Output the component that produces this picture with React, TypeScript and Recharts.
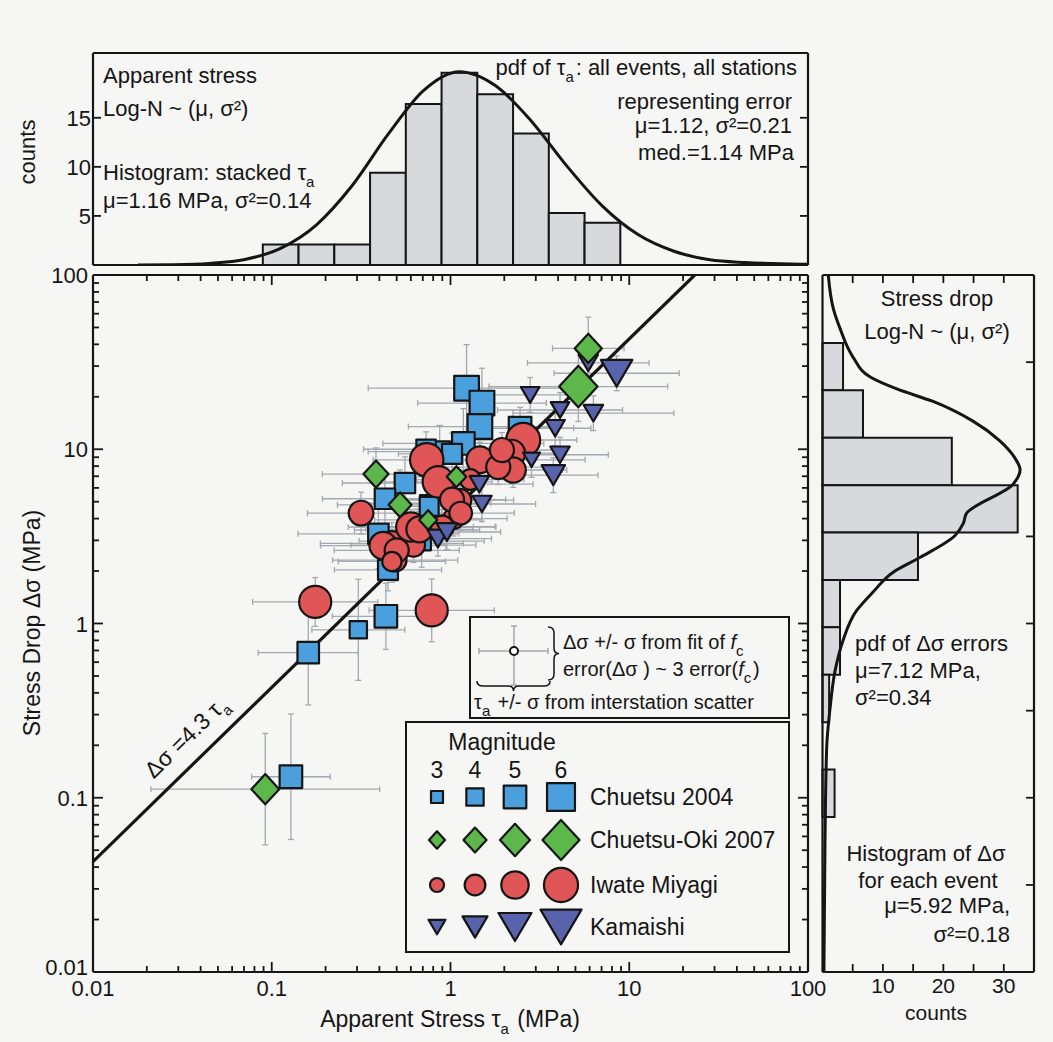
import React from 'react';
import { ComposedChart, ScatterChart, Scatter, Line, XAxis, YAxis, ErrorBar, ReferenceArea } from 'recharts';

const FONT = '"Liberation Sans", Arial, Helvetica, sans-serif';
const INK = '#151515';
const PAPER = '#f6f6f4';
const BAR_FILL = '#d7d9dc';
const ERR = '#a3a9b0';

// ---- tick values
const decades = [0.01, 0.1, 1, 10, 100];
const minorLog = [
  0.02, 0.03, 0.04, 0.05, 0.06, 0.07, 0.08, 0.09,
  0.2, 0.3, 0.4, 0.5, 0.6, 0.7, 0.8, 0.9,
  2, 3, 4, 5, 6, 7, 8, 9,
  20, 30, 40, 50, 60, 70, 80, 90,
];
const logTicks = [...decades, ...minorLog].sort((a, b) => a - b);
const halfDecades = [0.0316, 0.1, 0.316, 1, 3.16, 10, 31.6];
const topCountTicks = [5, 10, 15];
const rightCountTicks = [5, 10, 15, 20, 25, 30];
const rightCountLabels = [10, 20, 30];

// ---- top histogram: apparent stress (bin edges in log10 MPa)
const tauEdges = [-1.05, -0.85, -0.65, -0.45, -0.25, -0.05, 0.15, 0.35, 0.55, 0.75, 0.95];
const tauCounts = [2.1, 2.1, 2.1, 9.4, 16.4, 19.6, 17.4, 13.4, 5.3, 4.3];
const tauPdfX = [0.0178, 0.0282, 0.0447, 0.0708, 0.112, 0.178, 0.282, 0.447, 0.708, 1.12, 1.78, 2.82, 4.47, 7.08, 11.2, 17.8, 28.2, 44.7, 70.8, 100];
const tauPdfY = [0.0, 0.03, 0.16, 0.56, 1.7, 4.1, 8.1, 13.3, 17.8, 19.7, 18.3, 14.7, 10.1, 6.0, 3.1, 1.4, 0.53, 0.25, 0.12, 0.08];

// ---- right histogram: stress drop (bin edges in log10 MPa)
const sigEdges = [1.61, 1.338, 1.066, 0.794, 0.522, 0.25, -0.022, -0.294, -0.566, -0.838, -1.11];
const sigCounts = [3.4, 6.7, 21.4, 32.3, 15.8, 2.9, 2.9, 1.1, 0, 2.0];
const sigPdfY = [100, 64, 49.4, 33.6, 26, 22.2, 18.8, 14.5, 11.2, 8.95, 7.62, 6.28, 4.27, 3.75, 3.19, 2.39, 1.97, 1.52, 1.18, 0.8, 0.54, 0.324, 0.194, 0.054, 0.0115, 0.01];
const sigPdfC = [0.96, 1.8, 2.9, 5.1, 7.9, 12.3, 18.3, 24.9, 29.3, 31.8, 32.7, 31.5, 23.8, 23.3, 21.9, 16.1, 11.7, 8.4, 5.6, 3.4, 2.1, 1.24, 0.69, 0.41, 0.25, 0.24];

// ---- events: x = apparent stress, y = stress drop (MPa), m = magnitude, ex/ey = error half width (decades)
type Pt = { x: number; y: number; m: number; ex: number; ey: number };

const chuetsu: Pt[] = [
  { x: 0.305, y: 0.92, m: 4.0, ex: 0.26, ey: 0.29 },
  { x: 0.435, y: 1.1, m: 5.0, ex: 0.3, ey: 0.19 },
  { x: 0.16, y: 0.68, m: 4.8, ex: 0.28, ey: 0.3 },
  { x: 0.128, y: 0.132, m: 5.0, ex: 0.22, ey: 0.36 },
  { x: 0.447, y: 2.03, m: 4.5, ex: 0.3, ey: 0.12 },
  { x: 1.23, y: 22.4, m: 5.4, ex: 0.55, ey: 0.25 },
  { x: 1.5, y: 18.4, m: 5.4, ex: 0.36, ey: 0.2 },
  { x: 1.46, y: 13.5, m: 5.4, ex: 0.4, ey: 0.15 },
  { x: 2.45, y: 13.2, m: 5.0, ex: 0.3, ey: 0.12 },
  { x: 1.18, y: 10.8, m: 5.0, ex: 0.45, ey: 0.2 },
  { x: 0.87, y: 9.7, m: 4.6, ex: 0.4, ey: 0.15 },
  { x: 0.556, y: 6.4, m: 4.6, ex: 0.35, ey: 0.15 },
  { x: 0.75, y: 4.9, m: 3.8, ex: 0.35, ey: 0.1 },
  { x: 0.43, y: 5.2, m: 4.6, ex: 0.35, ey: 0.15 },
  { x: 0.395, y: 3.27, m: 4.6, ex: 0.45, ey: 0.2 },
  { x: 0.69, y: 2.97, m: 4.2, ex: 0.35, ey: 0.15 },
  { x: 0.76, y: 4.7, m: 4.3, ex: 0.3, ey: 0.15 },
  { x: 0.73, y: 10.0, m: 4.4, ex: 0.35, ey: 0.1 },
  { x: 1.02, y: 9.4, m: 4.5, ex: 0.3, ey: 0.12 },
];

const chuetsuOki: Pt[] = [
  { x: 0.092, y: 0.112, m: 4.7, ex: 0.64, ey: 0.32 },
  { x: 5.9, y: 37.9, m: 4.6, ex: 0.2, ey: 0.18 },
  { x: 5.19, y: 22.9, m: 6.2, ex: 0.5, ey: 0.2 },
  { x: 0.383, y: 7.2, m: 4.3, ex: 0.3, ey: 0.15 },
  { x: 0.522, y: 4.8, m: 4.0, ex: 0.35, ey: 0.2 },
  { x: 1.08, y: 6.95, m: 3.5, ex: 0.3, ey: 0.1 },
  { x: 0.75, y: 3.93, m: 3.3, ex: 0.3, ey: 0.1 },
];

const iwate: Pt[] = [
  { x: 0.175, y: 1.33, m: 5.7, ex: 0.35, ey: 0.14 },
  { x: 0.785, y: 1.19, m: 5.7, ex: 0.35, ey: 0.18 },
  { x: 0.736, y: 8.7, m: 5.9, ex: 0.3, ey: 0.1 },
  { x: 0.855, y: 6.5, m: 5.6, ex: 0.3, ey: 0.1 },
  { x: 1.46, y: 8.7, m: 4.9, ex: 0.3, ey: 0.1 },
  { x: 2.55, y: 11.3, m: 6.0, ex: 0.3, ey: 0.1 },
  { x: 2.2, y: 9.5, m: 4.9, ex: 0.3, ey: 0.1 },
  { x: 2.24, y: 7.6, m: 4.7, ex: 0.3, ey: 0.1 },
  { x: 1.85, y: 7.9, m: 4.5, ex: 0.3, ey: 0.1 },
  { x: 1.94, y: 9.9, m: 4.5, ex: 0.3, ey: 0.1 },
  { x: 1.29, y: 6.7, m: 4.0, ex: 0.3, ey: 0.1 },
  { x: 1.13, y: 5.1, m: 4.3, ex: 0.3, ey: 0.1 },
  { x: 1.04, y: 4.0, m: 4.0, ex: 0.3, ey: 0.1 },
  { x: 0.65, y: 3.44, m: 5.0, ex: 0.35, ey: 0.12 },
  { x: 0.47, y: 2.88, m: 4.6, ex: 0.4, ey: 0.12 },
  { x: 0.49, y: 2.31, m: 4.3, ex: 0.35, ey: 0.12 },
  { x: 0.89, y: 3.6, m: 4.2, ex: 0.3, ey: 0.1 },
  { x: 0.62, y: 2.82, m: 4.4, ex: 0.35, ey: 0.1 },
  { x: 0.316, y: 4.3, m: 4.6, ex: 0.3, ey: 0.12 },
  { x: 0.42, y: 2.8, m: 5.0, ex: 0.35, ey: 0.12 },
  { x: 0.5, y: 2.63, m: 4.5, ex: 0.35, ey: 0.12 },
  { x: 0.47, y: 2.27, m: 3.8, ex: 0.3, ey: 0.12 },
  { x: 0.6, y: 3.58, m: 5.3, ex: 0.35, ey: 0.1 },
  { x: 0.67, y: 3.47, m: 4.8, ex: 0.3, ey: 0.1 },
  { x: 1.02, y: 5.14, m: 4.5, ex: 0.3, ey: 0.1 },
  { x: 1.14, y: 4.3, m: 4.3, ex: 0.3, ey: 0.1 },
  { x: 0.9, y: 3.58, m: 4.3, ex: 0.3, ey: 0.1 },
];

const kamaishi: Pt[] = [
  { x: 8.5, y: 27.3, m: 4.8, ex: 0.35, ey: 0.1 },
  { x: 5.9, y: 31.3, m: 3.3, ex: 0.34, ey: 0.1 },
  { x: 2.79, y: 20.5, m: 3.2, ex: 0.25, ey: 0.1 },
  { x: 4.1, y: 16.8, m: 3.2, ex: 0.35, ey: 0.1 },
  { x: 6.3, y: 16.1, m: 3.3, ex: 0.45, ey: 0.1 },
  { x: 3.85, y: 13.2, m: 3.3, ex: 0.2, ey: 0.1 },
  { x: 4.1, y: 9.3, m: 3.3, ex: 0.27, ey: 0.1 },
  { x: 3.76, y: 7.1, m: 3.8, ex: 0.25, ey: 0.1 },
  { x: 2.84, y: 8.7, m: 3.0, ex: 0.3, ey: 0.1 },
  { x: 1.45, y: 6.3, m: 3.3, ex: 0.3, ey: 0.1 },
  { x: 1.5, y: 4.85, m: 3.3, ex: 0.3, ey: 0.1 },
  { x: 0.85, y: 3.07, m: 3.5, ex: 0.3, ey: 0.1 },
  { x: 0.955, y: 3.35, m: 3.5, ex: 0.3, ey: 0.1 },
];

// dsigma = 4.3 tau_a
const fitLine = [
  { x: 0.01, y: 0.043 },
  { x: 23.26, y: 100 },
];

const legendMags = [3, 4, 5, 6];
const legendRows: { kind: Kind; label: string }[] = [
  { kind: 'square', label: 'Chuetsu 2004' },
  { kind: 'diamond', label: 'Chuetsu-Oki 2007' },
  { kind: 'circle', label: 'Iwate Miyagi' },
  { kind: 'triangle', label: 'Kamaishi' },
];

// ---- derived tables
const tauPdf = tauPdfX.map((x, i) => ({ x, y: tauPdfY[i] }));
const sigPdf = sigPdfY.map((y, i) => ({ c: sigPdfC[i], y }));
const errPoints = [...chuetsu, ...chuetsuOki, ...iwate, ...kamaishi].map((p) => ({
  ...p,
  exr: [p.x - p.x / 10 ** p.ex, p.x * 10 ** p.ex - p.x],
  eyr: [p.y - p.y / 10 ** p.ey, p.y * 10 ** p.ey - p.y],
}));

type Kind = 'square' | 'diamond' | 'circle' | 'triangle';
const FILLS: Record<Kind, string> = {
  square: '#4a9fdc',
  diamond: '#5cb84a',
  circle: '#e05656',
  triangle: '#5862ad',
};

function Marker({ kind, cx, cy, m }: { kind: Kind; cx: number; cy: number; m: number }) {
  const t = m - 3;
  const common = { fill: FILLS[kind], stroke: INK, strokeWidth: 2.2, strokeLinejoin: 'round' as const };
  if (kind === 'square') {
    const s = 12 + 5.3 * t;
    return <rect x={cx - s / 2} y={cy - s / 2} width={s} height={s} {...common} />;
  }
  if (kind === 'diamond') {
    const w = 16 + 7 * t;
    const h = w * 1.08;
    return <polygon points={`${cx},${cy - h / 2} ${cx + w / 2},${cy} ${cx},${cy + h / 2} ${cx - w / 2},${cy}`} {...common} />;
  }
  if (kind === 'circle') {
    const d = 14 + 6.7 * t;
    return <circle cx={cx} cy={cy} r={d / 2} {...common} />;
  }
  const w = 17 + 8 * t;
  const h = w * 0.85;
  return <polygon points={`${cx - w / 2},${cy - h / 2} ${cx + w / 2},${cy - h / 2} ${cx},${cy + h / 2}`} {...common} />;
}

const shapeFor = (kind: Kind) => (p: any) => <Marker kind={kind} cx={p.cx} cy={p.cy} m={p.payload.m} />;

// ---- tick renderers (tickSize/tickMargin = 0, so x/y sit on the axis line)
const txt = { fontFamily: FONT, fontSize: 22, fill: INK };

function logTick(side: 'bottom' | 'top' | 'left' | 'right', labels: boolean) {
  return (props: any) => {
    const { x, y, payload } = props;
    const v = payload.value;
    const major = decades.includes(v);
    const len = major ? 10 : 6;
    let line;
    if (side === 'bottom') line = <line x1={x} y1={y} x2={x} y2={y - len} />;
    else if (side === 'top') line = <line x1={x} y1={y} x2={x} y2={y + len} />;
    else if (side === 'left') line = <line x1={x} y1={y} x2={x + len} y2={y} />;
    else line = <line x1={x} y1={y} x2={x - len} y2={y} />;
    return (
      <g stroke={INK} strokeWidth={1.8}>
        {line}
        {labels && major && side === 'bottom' && (
          <text x={x} y={y + 24} textAnchor="middle" stroke="none" {...txt}>{String(v)}</text>
        )}
        {labels && major && side === 'left' && (
          <text x={x - 5} y={v === 0.01 ? y + 3 : y + 8} textAnchor="end" stroke="none" {...txt}>{String(v)}</text>
        )}
      </g>
    );
  };
}

function linTick(side: 'bottom' | 'top' | 'left' | 'right', labelled: number[]) {
  return (props: any) => {
    const { x, y, payload } = props;
    const v = payload.value;
    const len = 8;
    let line;
    if (side === 'bottom') line = <line x1={x} y1={y} x2={x} y2={y - len} />;
    else if (side === 'top') line = <line x1={x} y1={y} x2={x} y2={y + len} />;
    else if (side === 'left') line = <line x1={x} y1={y} x2={x + len} y2={y} />;
    else line = <line x1={x} y1={y} x2={x - len} y2={y} />;
    const show = labelled.includes(v);
    return (
      <g stroke={INK} strokeWidth={1.8}>
        {line}
        {show && side === 'bottom' && (
          <text x={x} y={y + 21} textAnchor="middle" stroke="none" {...txt} fontSize={21}>{String(v)}</text>
        )}
        {show && side === 'left' && (
          <text x={x - 2} y={y + 8} textAnchor="end" stroke="none" {...txt}>{String(v)}</text>
        )}
      </g>
    );
  };
}

const frame = { stroke: INK, strokeWidth: 2.2 };
const noTick = () => <g />;

function TopHistogram() {
  return (
    <ComposedChart width={820} height={275} data={tauPdf} margin={{ top: 52, right: 11, bottom: 9, left: 0 }}>
      <XAxis xAxisId="b" type="number" dataKey="x" scale="log" domain={[0.01, 100]} allowDataOverflow height={1} ticks={decades} tick={noTick} tickLine={false} tickSize={0} axisLine={frame} />
      <XAxis xAxisId="t" orientation="top" type="number" dataKey="x" scale="log" domain={[0.01, 100]} allowDataOverflow height={1} ticks={decades} tick={noTick} tickLine={false} tickSize={0} axisLine={frame} />
      <YAxis yAxisId="l" type="number" domain={[0, 21.6]} allowDataOverflow ticks={topCountTicks} interval={0} width={93} tickSize={0} tickMargin={0} tickLine={false} tick={linTick('left', topCountTicks)} axisLine={frame} />
      <YAxis yAxisId="r" orientation="right" type="number" domain={[0, 21.6]} allowDataOverflow ticks={topCountTicks} interval={0} width={1} tickSize={0} tickMargin={0} tickLine={false} tick={linTick('right', [])} axisLine={frame} />
      {tauCounts.map((c, i) => (
        <ReferenceArea
          key={i}
          xAxisId="b"
          yAxisId="l"
          x1={10 ** tauEdges[i]}
          x2={10 ** tauEdges[i + 1]}
          y1={0}
          y2={c}
          fill={BAR_FILL}
          fillOpacity={1}
          stroke={INK}
          strokeWidth={2}
        />
      ))}
      <Line xAxisId="b" yAxisId="l" dataKey="y" type="monotone" dot={false} stroke={INK} strokeWidth={3} isAnimationActive={false} />
    </ComposedChart>
  );
}

function MainScatter() {
  return (
    <ScatterChart width={840} height={787} margin={{ top: 19, right: 31, bottom: 69, left: 0 }}>
      <XAxis xAxisId="b" type="number" dataKey="x" scale="log" domain={[0.01, 100]} allowDataOverflow ticks={logTicks} interval={0} height={1} tickSize={0} tickMargin={0} tickLine={false} tick={logTick('bottom', true)} axisLine={frame} />
      <XAxis xAxisId="t" orientation="top" type="number" dataKey="x" scale="log" domain={[0.01, 100]} allowDataOverflow ticks={logTicks} interval={0} height={1} tickSize={0} tickMargin={0} tickLine={false} tick={logTick('top', false)} axisLine={frame} />
      <YAxis yAxisId="l" type="number" dataKey="y" scale="log" domain={[0.01, 100]} allowDataOverflow ticks={logTicks} interval={0} width={93} tickSize={0} tickMargin={0} tickLine={false} tick={logTick('left', true)} axisLine={frame} />
      <YAxis yAxisId="r" orientation="right" type="number" dataKey="y" scale="log" domain={[0.01, 100]} allowDataOverflow ticks={logTicks} interval={0} width={1} tickSize={0} tickMargin={0} tickLine={false} tick={logTick('right', false)} axisLine={frame} />

      <Scatter xAxisId="b" yAxisId="l" data={errPoints} shape={noTick} isAnimationActive={false}>
        <ErrorBar dataKey="exr" direction="x" width={3} stroke={ERR} strokeWidth={1.3} />
        <ErrorBar dataKey="eyr" direction="y" width={3} stroke={ERR} strokeWidth={1.3} />
      </Scatter>
      <Scatter xAxisId="b" yAxisId="l" data={fitLine} line={{ stroke: INK, strokeWidth: 3.2 }} shape={noTick} isAnimationActive={false} />
      <Scatter xAxisId="b" yAxisId="l" data={chuetsu} shape={shapeFor('square')} isAnimationActive={false} />
      <Scatter xAxisId="b" yAxisId="l" data={iwate} shape={shapeFor('circle')} isAnimationActive={false} />
      <Scatter xAxisId="b" yAxisId="l" data={kamaishi} shape={shapeFor('triangle')} isAnimationActive={false} />
      <Scatter xAxisId="b" yAxisId="l" data={chuetsuOki} shape={shapeFor('diamond')} isAnimationActive={false} />
    </ScatterChart>
  );
}

function RightHistogram() {
  return (
    <ComposedChart width={238} height={787} data={sigPdf} margin={{ top: 19, right: 18, bottom: 69, left: 0 }}>
      <XAxis xAxisId="b" type="number" dataKey="c" domain={[0, 35]} allowDataOverflow ticks={rightCountTicks} interval={0} height={1} tickSize={0} tickMargin={0} tickLine={false} tick={linTick('bottom', rightCountLabels)} axisLine={frame} />
      <XAxis xAxisId="t" orientation="top" type="number" dataKey="c" domain={[0, 35]} allowDataOverflow ticks={rightCountTicks} interval={0} height={1} tickSize={0} tickMargin={0} tickLine={false} tick={linTick('top', [])} axisLine={frame} />
      <YAxis yAxisId="l" type="number" dataKey="y" scale="log" domain={[0.01, 100]} allowDataOverflow ticks={halfDecades} interval={0} width={7.5} tickSize={0} tickMargin={0} tickLine={false} tick={noTick} axisLine={frame} />
      <YAxis yAxisId="r" orientation="right" type="number" dataKey="y" scale="log" domain={[0.01, 100]} allowDataOverflow ticks={halfDecades} interval={0} width={1} tickSize={0} tickMargin={0} tickLine={false} tick={linTick('right', [])} axisLine={frame} />
      {sigCounts.map((c, i) =>
        c > 0 ? (
          <ReferenceArea
            key={i}
            xAxisId="b"
            yAxisId="l"
            x1={0}
            x2={c}
            y1={10 ** sigEdges[i + 1]}
            y2={10 ** sigEdges[i]}
            fill={BAR_FILL}
            fillOpacity={1}
            stroke={INK}
            strokeWidth={2}
          />
        ) : null,
      )}
      <Line xAxisId="b" yAxisId="l" dataKey="y" type="monotoneY" dot={false} stroke={INK} strokeWidth={3} isAnimationActive={false} />
    </ComposedChart>
  );
}

const sub = (s: string) => (
  <>
    <tspan dy={7} fontSize={15}>{s}</tspan>
    <tspan dy={-7}>{'\u200A'}</tspan>
  </>
);

function Annotations() {
  const t = { fontFamily: FONT, fontSize: 22, fill: INK };
  const cols = [437, 475, 515, 561];
  const rows = [797, 840, 885, 927];
  return (
    <svg width={1053} height={1042} style={{ position: 'absolute', left: 0, top: 0, pointerEvents: 'none' }}>
      {/* top histogram */}
      <text x={35} y={152} transform="rotate(-90 35 152)" textAnchor="middle" {...t}>counts</text>
      <text x={103} y={83} {...t}>Apparent stress</text>
      <text x={103} y={116} {...t}>Log-N ~ (μ, σ²)</text>
      <text x={103} y={180} {...t}>Histogram: stacked τ{sub('a')}</text>
      <text x={103} y={208} {...t}>μ=1.16 MPa, σ²=0.14</text>
      <text x={797} y={75} textAnchor="end" {...t}>pdf of τ{sub('a')}: all events, all stations</text>
      <text x={792} y={109} textAnchor="end" {...t}>representing error</text>
      <text x={792} y={133} textAnchor="end" {...t}>μ=1.12, σ²=0.21</text>
      <text x={794} y={160} textAnchor="end" {...t}>med.=1.14 MPa</text>

      {/* main axes titles */}
      <text x={450} y={1027} textAnchor="middle" {...t} fontSize={23}>Apparent Stress τ{sub('a')} (MPa)</text>
      <text x={40} y={623} transform="rotate(-90 40 623)" textAnchor="middle" {...t} fontSize={23}>Stress Drop Δσ (MPa)</text>
      <text x={192} y={742} transform="rotate(-44.3 192 742)" textAnchor="middle" {...t} fontSize={23}>Δσ =4.3 τ{sub('a')}</text>

      {/* error legend */}
      <rect x={470} y={617} width={319} height={101} fill={PAPER} stroke={INK} strokeWidth={2} />
      <g stroke={ERR} strokeWidth={1.5}>
        <line x1={479} y1={651} x2={548} y2={651} />
        <line x1={479} y1={648} x2={479} y2={654} />
        <line x1={548} y1={648} x2={548} y2={654} />
        <line x1={514} y1={626} x2={514} y2={685} />
        <line x1={511} y1={626} x2={517} y2={626} />
        <line x1={511} y1={685} x2={517} y2={685} />
      </g>
      <circle cx={514} cy={651} r={4} fill="#fff" stroke={INK} strokeWidth={2} />
      <path d="M548 627 Q554 627 554 633 L554 648 Q554 653.5 559 653.5 Q554 653.5 554 659 L554 674 Q554 680 548 680" fill="none" stroke={INK} strokeWidth={1.5} />
      <path d="M477 681 Q477 686 483 686 L508 686 Q513.5 686 513.5 691 Q513.5 686 519 686 L544 686 Q550 686 550 681" fill="none" stroke={INK} strokeWidth={1.5} />
      <text x={563} y={649} {...t} fontSize={20}>Δσ +/- σ from fit of <tspan fontStyle="italic">f</tspan>{sub('c')}</text>
      <text x={563} y={676} {...t} fontSize={20}>error(Δσ ) ~ 3 error(<tspan fontStyle="italic">f</tspan>{sub('c')})</text>
      <text x={474} y={709} {...t} fontSize={20}>τ{sub('a')} +/- σ from interstation scatter</text>

      {/* magnitude legend */}
      <rect x={406} y={722} width={383} height={230} fill={PAPER} stroke={INK} strokeWidth={2} />
      <text x={502} y={750} textAnchor="middle" {...t} fontSize={23}>Magnitude</text>
      {legendMags.map((m, i) => (
        <text key={m} x={cols[i]} y={778} textAnchor="middle" {...t} fontSize={23}>{m}</text>
      ))}
      {legendRows.map((r, j) => (
        <g key={r.label}>
          {legendMags.map((m, i) => (
            <Marker key={m} kind={r.kind} cx={cols[i]} cy={rows[j]} m={m} />
          ))}
          <text x={590} y={rows[j] + 8} {...t} fontSize={23}>{r.label}</text>
        </g>
      ))}

      {/* right histogram */}
      <text x={937} y={306} textAnchor="middle" {...t}>Stress drop</text>
      <text x={937} y={339} textAnchor="middle" {...t}>Log-N ~ (μ, σ²)</text>
      <text x={855} y={651} {...t}>pdf of Δσ errors</text>
      <text x={855} y={678} {...t}>μ=7.12 MPa,</text>
      <text x={855} y={705} {...t}>σ²=0.34</text>
      <text x={926} y={861} textAnchor="middle" {...t}>Histogram of Δσ</text>
      <text x={928} y={888} textAnchor="middle" {...t}>for each event</text>
      <text x={1010} y={913} textAnchor="end" {...t}>μ=5.92 MPa,</text>
      <text x={1010} y={942} textAnchor="end" {...t}>σ²=0.18</text>
      <text x={936} y={1020} textAnchor="middle" {...t} fontSize={21}>counts</text>
    </svg>
  );
}

export default function App() {
  return (
    <div style={{ position: 'absolute', left: 0, top: 0, width: 1053, height: 1042, background: PAPER, fontFamily: FONT, overflow: 'hidden' }}>
      <div style={{ position: 'absolute', left: 0, top: 0 }}>
        <TopHistogram />
      </div>
      <div style={{ position: 'absolute', left: 0, top: 255 }}>
        <MainScatter />
      </div>
      <div style={{ position: 'absolute', left: 815, top: 255 }}>
        <RightHistogram />
      </div>
      <Annotations />
    </div>
  );
}
